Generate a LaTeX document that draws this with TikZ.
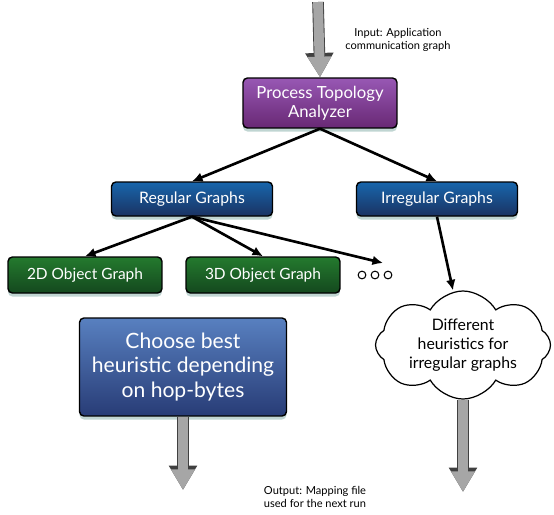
\documentclass[tikz,border=0pt]{standalone}
\usepackage{fontspec}
\setmainfont{Lato}
\usepackage{tikz}
\usetikzlibrary{arrows.meta,positioning,calc,shapes.symbols,shadows}

\definecolor{purpTop}{RGB}{152,88,180}
\definecolor{purpBot}{RGB}{104,40,116}
\definecolor{blueTop}{RGB}{24,102,172}
\definecolor{blueBot}{RGB}{26,50,98}
\definecolor{greenTop}{RGB}{36,122,46}
\definecolor{greenBot}{RGB}{20,72,30}
\definecolor{lblueTop}{RGB}{88,128,192}
\definecolor{lblueBot}{RGB}{40,60,118}
\definecolor{glow}{RGB}{150,185,180}

\begin{document}
\begin{tikzpicture}[
x=0.02cm, y=-0.02cm,
box/.style={draw, line width=0.8pt, rounded corners=2.5pt, align=center, text=white, inner sep=1pt,
  drop shadow={shadow xshift=0pt, shadow yshift=-2pt, fill=glow, opacity=0.6}},
topbox/.style={box, top color=purpTop, bottom color=purpBot, minimum width=3.08cm, minimum height=1cm, font=\fontsize{9.5}{11}\selectfont},
graphbox/.style={box, top color=blueTop, bottom color=blueBot, minimum width=3.22cm, minimum height=0.68cm, font=\fontsize{9}{10}\selectfont},
objbox/.style={box, top color=greenTop, bottom color=greenBot, minimum width=3.08cm, minimum height=0.72cm, font=\fontsize{8.8}{10}\selectfont},
bigbox/.style={box, top color=lblueTop, bottom color=lblueBot, minimum width=4.14cm, minimum height=1.96cm, font=\fontsize{12}{14}\selectfont},
thought/.style={cloud, cloud puffs=8, cloud puff arc=120, aspect=1.9, draw, line width=0.7pt, fill=white, align=center,
  minimum width=3.5cm, minimum height=1.85cm, inner sep=0pt, font=\fontsize{9}{11}\selectfont},
note/.style={align=center, font=\fontsize{6.3}{7.5}\selectfont},
arrow/.style={-{Latex[length=6pt,width=5.5pt]}, line width=1.5pt},
bigarrow/.style={-{Triangle[length=0pt 2.1,width=0pt 2.3]}, line width=5.6pt, draw=gray!70,
  preaction={draw=black!75, line width=6.6pt, -{Triangle[length=0pt 2.1,width=0pt 2.3]}}}
]
\useasboundingbox (0,0) rectangle (554,514);

\node[topbox] (pta) at (320,103) {Process Topology\\Analyzer};
\node[graphbox] (regular) at (192,199) {Regular Graphs};
\node[graphbox] (irregular) at (437,199) {Irregular Graphs};
\node[objbox] (twod) at (85,275) {2D Object Graph};
\node[objbox] (threed) at (263,275) {3D Object Graph};
\node[minimum width=0.6cm, minimum height=0.2cm] (dots) at (375,275) {};
\node[bigbox] (choose) at (183,367) {Choose best\\heuristic depending\\on hop-bytes};
\node[thought] (diff) at (463,345) {Different\\heuristics for\\irregular graphs};

\node[note] (innote) at (398,40) {Input: Application\\communication graph};
\node[note] (outnote) at (315,497) {Output: Mapping file\\used for the next run};

% the three small circles
\foreach \i in {-1,0,1}
  \draw[fill=white, line width=0.6pt] ($(dots)+(\i*13,0)$) circle (2.2pt);

\coordinate (in) at (318,2);
\coordinate (more) at (383,263);
\coordinate (outL) at (183,490);
\coordinate (outR) at (463,492);

\draw[bigarrow] (in) -- (pta.north);
\draw[arrow] (pta.south) -- (regular.north);
\draw[arrow] (pta.south) -- (irregular.north);
\draw[arrow] (regular.south) -- (twod.north);
\draw[arrow] (regular.south) -- (threed.north);
\draw[arrow] (regular.south) -- (more);
\draw[arrow] (irregular.south) -- ($(diff.north)+(-10,0)$);
\draw[bigarrow] (choose.south) -- (outL);
\draw[bigarrow] (diff.south) -- (outR);
\end{tikzpicture}
\end{document}
